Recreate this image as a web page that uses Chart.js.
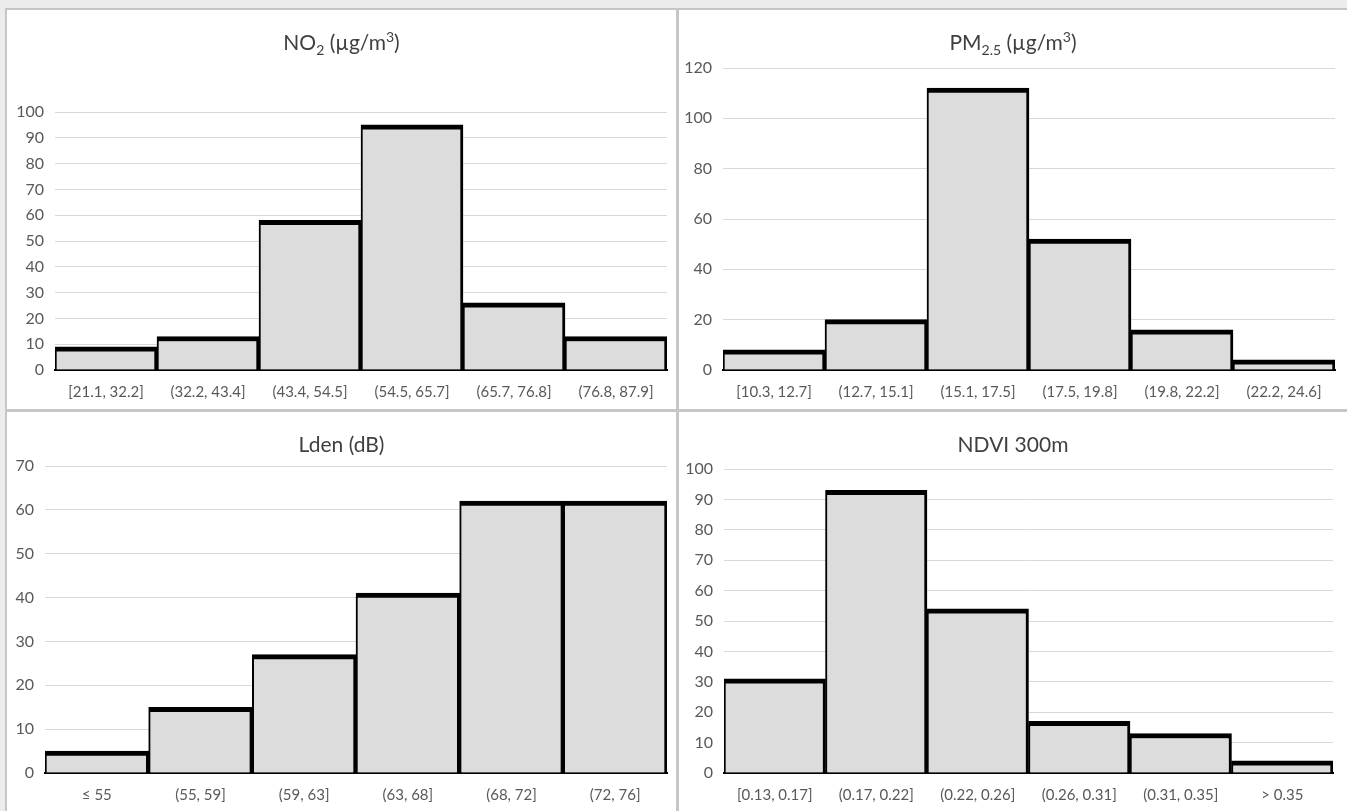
<!DOCTYPE html>
<html>
<head>
<meta charset="utf-8">
<title>Exposure histograms</title>
<script src="https://cdn.jsdelivr.net/npm/chart.js@4.4.1/dist/chart.umd.min.js"></script>
<style>
  html, body { margin: 0; padding: 0; }
  body {
    width: 1347px;
    height: 811px;
    background: #ececec;
    overflow: hidden;
    position: relative;
    font-family: Lato, "Open Sans", sans-serif;
  }
  .frame {
    position: absolute;
    left: 5px; top: 8px; right: 0; bottom: 0;
    background: #c6c6c6;
  }
  .panel {
    position: absolute;
    background: #fff;
  }
  #panel-no2 { left: 7px; top: 10px; width: 669px; height: 399px; }
  #panel-pm { left: 679px; top: 10px; width: 668px; height: 399px; }
  #panel-lden { left: 7px; top: 412px; width: 669px; height: 399px; }
  #panel-ndvi { left: 679px; top: 412px; width: 668px; height: 399px; }
  .panel .title {
    position: absolute;
    left: 0; right: 0; top: 18px;
    text-align: center;
    font-size: 21px;
    color: #404040;
    line-height: 28px;
    z-index: 2;
    pointer-events: none;
  }
  .panel .title sub, .panel .title sup { font-size: 14px; line-height: 0; }
  .panel .chart-box {
    position: absolute;
    left: 0; top: 0; right: 0; bottom: 0;
  }
</style>
</head>
<body>
<div class="frame"></div>
<div class="panel" id="panel-no2">
  <div class="title">NO<sub>2</sub> (µg/m<sup>3</sup>)</div>
  <div class="chart-box"><canvas id="no2-chart"></canvas></div>
</div>
<div class="panel" id="panel-pm">
  <div class="title">PM<sub>2.5</sub> (µg/m<sup>3</sup>)</div>
  <div class="chart-box"><canvas id="pm-chart"></canvas></div>
</div>
<div class="panel" id="panel-lden">
  <div class="title">Lden (dB)</div>
  <div class="chart-box"><canvas id="lden-chart"></canvas></div>
</div>
<div class="panel" id="panel-ndvi">
  <div class="title">NDVI 300m</div>
  <div class="chart-box"><canvas id="ndvi-chart"></canvas></div>
</div>

<script>
// Bin labels and counts.
const no2Labels = ['[21.1, 32.2]', '(32.2, 43.4]', '(43.4, 54.5]', '(54.5, 65.7]', '(65.7, 76.8]', '(76.8, 87.9]'];
const no2Counts = [9, 13, 58, 95, 26, 13];

const pmLabels = ['[10.3, 12.7]', '(12.7, 15.1]', '(15.1, 17.5]', '(17.5, 19.8]', '(19.8, 22.2]', '(22.2, 24.6]'];
const pmCounts = [8, 20, 112, 52, 16, 4];

const ldenLabels = ['≤ 55', '(55, 59]', '(59, 63]', '(63, 68]', '(68, 72]', '(72, 76]'];
const ldenCounts = [5, 15, 27, 41, 62, 62];

const ndviLabels = ['[0.13, 0.17]', '(0.17, 0.22]', '(0.22, 0.26]', '(0.26, 0.31]', '(0.31, 0.35]', '> 0.35'];
const ndviCounts = [31, 93, 54, 17, 13, 4];

// Axis ranges.
const no2Axis = [0, 100, 10];
const pmAxis = [0, 120, 20];
const ldenAxis = [0, 70, 10];
const ndviAxis = [0, 100, 10];

(function () {
  'use strict';

  /**
   * Colours used by every panel.
   */
  const COLORS = {
    bar: '#dcdcdc',
    edge: '#000000',
    grid: '#d9d9d9',
    tick: '#595959'
  };

  /**
   * Render one histogram panel.
   */
  function renderHistogram(canvasId, labels, counts, axis, box) {
    const canvas = document.getElementById(canvasId);
    if (!canvas) return;

    new Chart(canvas.getContext('2d'), {
      type: 'bar',
      data: {
        labels: labels,
        datasets: [{
          data: counts,
          backgroundColor: COLORS.bar,
          borderColor: COLORS.edge,
          borderWidth: { top: 5, left: 2, right: 3, bottom: 0 },
          borderSkipped: false,
          barPercentage: 1,
          categoryPercentage: 1
        }]
      },
      options: {
        responsive: true,
        maintainAspectRatio: false,
        animation: false,
        layout: {
          padding: { top: box.top, right: box.right, left: 0, bottom: 0 }
        },
        plugins: {
          legend: { display: false },
          title: { display: false },
          tooltip: { enabled: false }
        },
        scales: {
          x: {
            grid: { display: false, drawTicks: false },
            border: { display: true, color: COLORS.edge, width: 2 },
            ticks: {
              color: COLORS.tick,
              font: { family: 'Lato', size: 15 },
              padding: 13,
              maxRotation: 0,
              autoSkip: false
            },
            afterFit: function (scale) { scale.height = box.bottom; }
          },
          y: {
            min: axis[0],
            max: axis[1],
            grid: { color: COLORS.grid, drawTicks: false },
            border: { display: false },
            ticks: {
              stepSize: axis[2],
              color: COLORS.tick,
              font: { family: 'Lato', size: 16 },
              padding: 11
            },
            afterFit: function (scale) { scale.width = box.left; }
          }
        }
      }
    });
  }

  renderHistogram('no2-chart', no2Labels, no2Counts, no2Axis, { top: 102, left: 48, right: 9, bottom: 39 });
  renderHistogram('pm-chart', pmLabels, pmCounts, pmAxis, { top: 58, left: 44, right: 12, bottom: 39 });
  renderHistogram('lden-chart', ldenLabels, ldenCounts, ldenAxis, { top: 54, left: 38, right: 9, bottom: 38 });
  renderHistogram('ndvi-chart', ndviLabels, ndviCounts, ndviAxis, { top: 57, left: 45, right: 14, bottom: 38 });
})();
</script>
</body>
</html>
